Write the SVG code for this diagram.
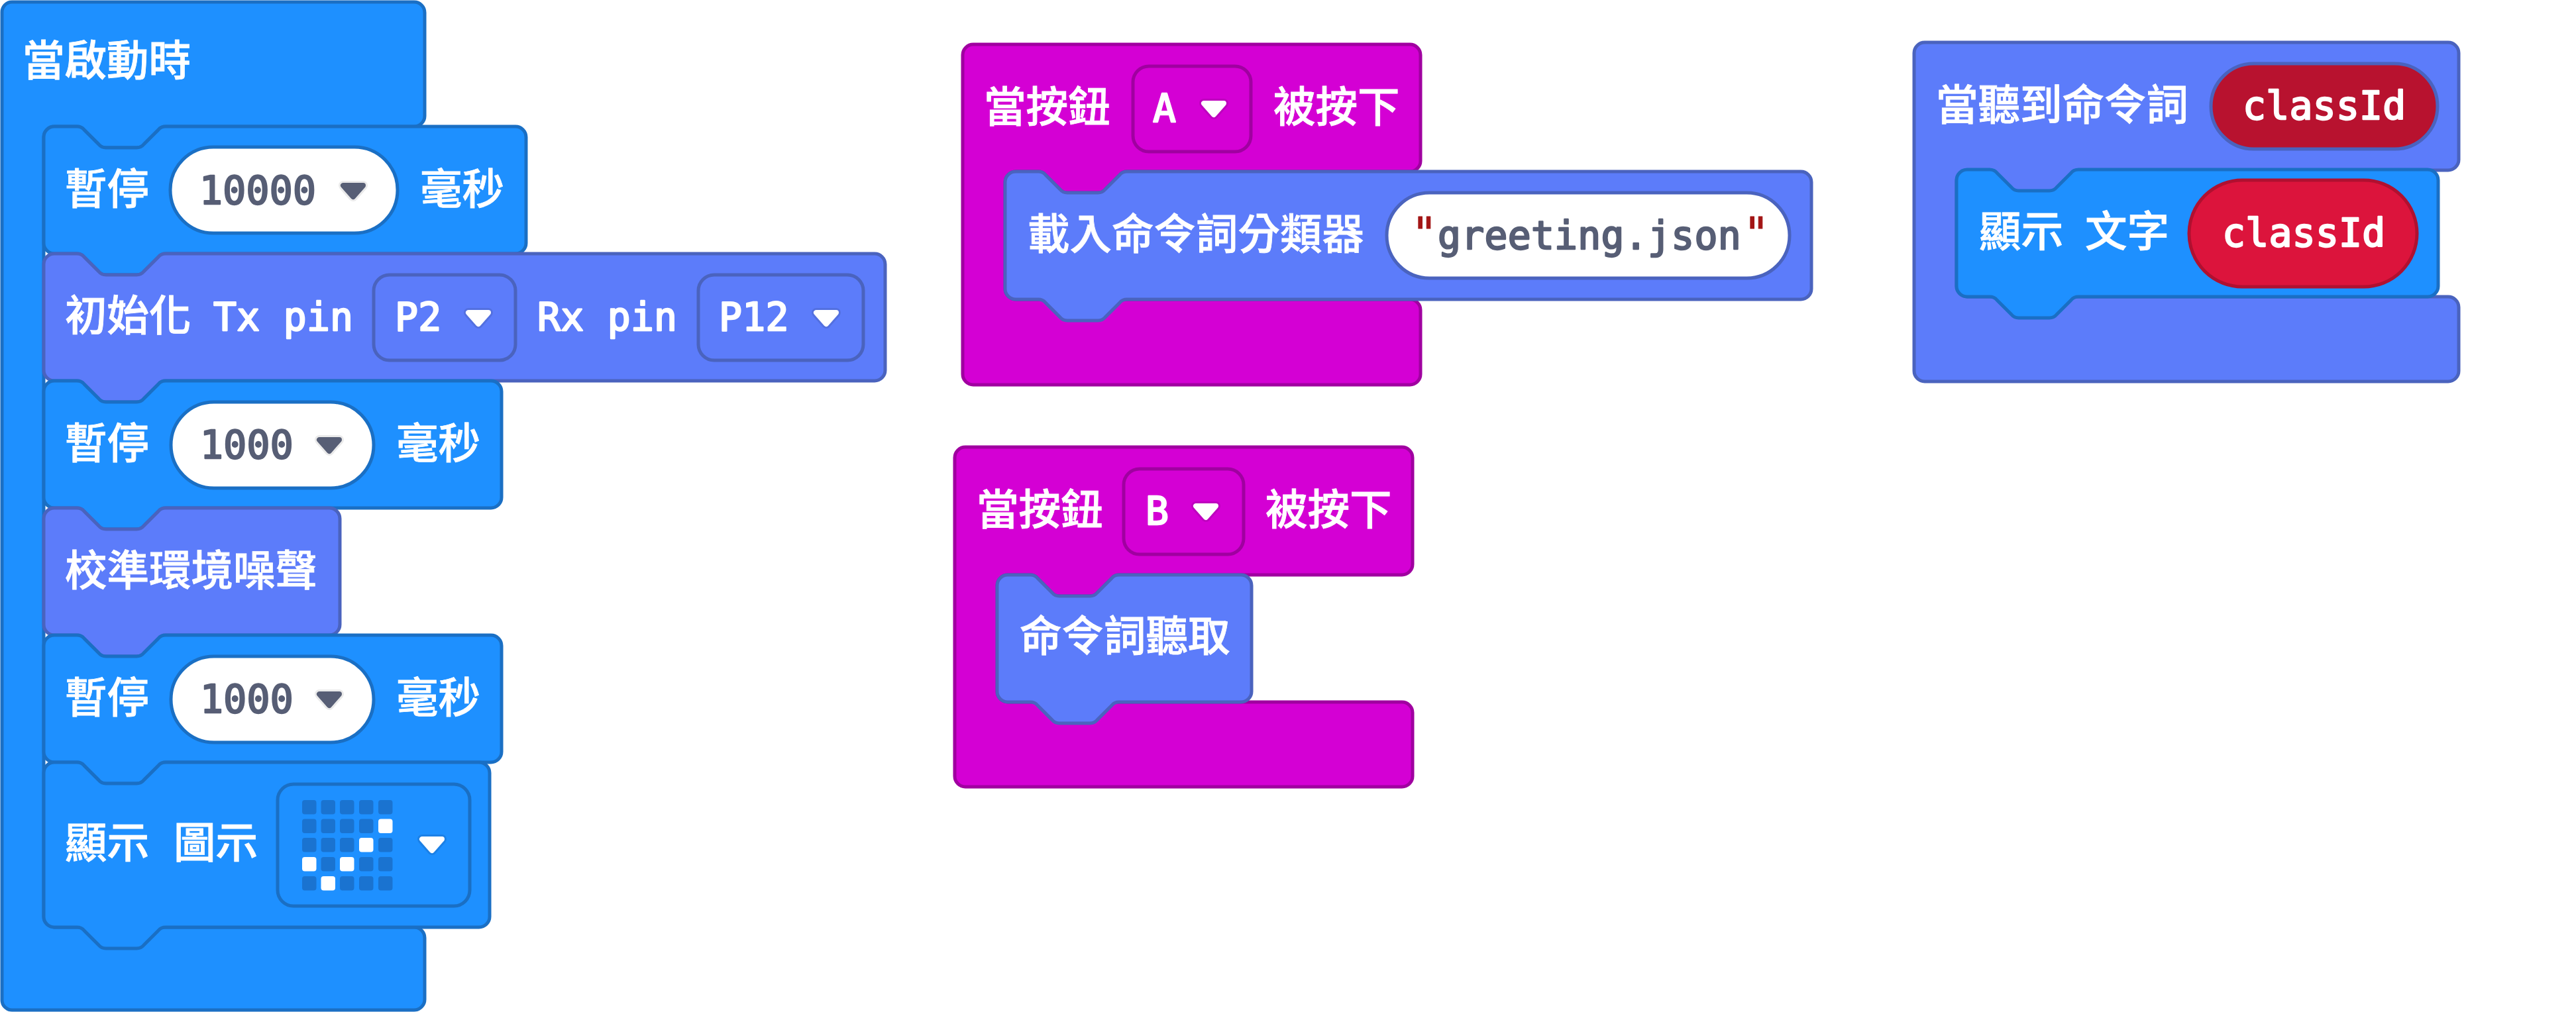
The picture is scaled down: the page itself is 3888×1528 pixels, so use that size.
<svg xmlns="http://www.w3.org/2000/svg" width="3888" height="1528" viewBox="0 0 3888 1528">
<style>
.blue{fill:#1E90FF;stroke:#1A6FC4;stroke-width:5}
.indigo{fill:#5C7CFA;stroke:#4A63BE;stroke-width:5}
.mag{fill:#D400D4;stroke:#A000A0;stroke-width:5}
.red{fill:#DC143C;stroke:#B01030;stroke-width:5}
.dred{fill:#B8122F;stroke:#4A63BE;stroke-width:5}
.wb{fill:#fff;stroke:#1A6FC4;stroke-width:5}
.wi{fill:#fff;stroke:#4A63BE;stroke-width:5}
.c{font-family:"Noto Sans CJK TC","Noto Sans",sans-serif;font-size:63.5px;font-weight:500;fill:#fff;stroke:#fff;stroke-width:.8}
.m{font-family:"DejaVu Sans Mono",monospace;font-size:58px;letter-spacing:.3px;font-weight:400;fill:#fff;stroke:#fff;stroke-width:2.4;stroke-linejoin:round}
.v{fill:#575E75;stroke:#575E75}
.q{fill:#A31515;stroke:#A31515;stroke-width:1;font-size:66px}
.off{fill:#1A73D0}
.on{fill:#fff}
.ad{fill:#575E75;stroke:#575E75;stroke-width:8;stroke-linejoin:round}
.hd{fill:#EAEAEA;stroke:#EAEAEA;stroke-width:14;stroke-linejoin:round}
.aw{fill:#fff;stroke:#fff;stroke-width:8;stroke-linejoin:round}
.hb{fill:#1B80E6;stroke:#1B80E6;stroke-width:14;stroke-linejoin:round}
.hi{fill:#5370E0;stroke:#5370E0;stroke-width:14;stroke-linejoin:round}
.hm{fill:#BE00BE;stroke:#BE00BE;stroke-width:14;stroke-linejoin:round}
</style>
<defs>
<path id="arrow" d="M-15,-8H15L0,9Z"/>
<rect id="led" width="21.5" height="21.5" rx="4"/>
</defs>
<g id="connectors"/>
<g id="node-start">
<path class="blue" d="M3,18A15,15 0 0 1 18,3H625A16,16 0 0 1 641,19V175A16,16 0 0 1 625,191H250q-7,0 -11,5l-22,22q-4,5 -11,5h-46q-7,0 -11,-5l-22,-22q-4,-5 -11,-5H82A16,16 0 0 0 66,207V1384A16,16 0 0 0 82,1400H625A16,16 0 0 1 641,1416V1509A16,16 0 0 1 625,1525H18A15,15 0 0 1 3,1510Z"/>
<text class="c" x="34" y="114">當啟動時</text>
</g>
<g id="node-pause1">
<path class="blue" d="M66,207A16,16 0 0 1 82,191H116q7,0 11,5l22,22q4,5 11,5h46q7,0 11,-5l22,-22q4,-5 11,-5H778A16,16 0 0 1 794,207V367A16,16 0 0 1 778,383H250q-7,0 -11,5l-22,22q-4,5 -11,5h-46q-7,0 -11,-5l-22,-22q-4,-5 -11,-5H82A16,16 0 0 1 66,367Z"/>
<text class="c" x="98" y="308">暫停</text>
<rect class="wb" x="257" y="222" width="343" height="130" rx="65"/>
<text class="m v" x="301" y="308">10000</text>
<use href="#arrow" class="hd" x="533" y="288"/><use href="#arrow" class="ad" x="533" y="288"/>
<text class="c" x="634" y="308">毫秒</text>
</g>
<g id="node-init">
<path class="indigo" d="M66,399A16,16 0 0 1 82,383H116q7,0 11,5l22,22q4,5 11,5h46q7,0 11,-5l22,-22q4,-5 11,-5H1320A16,16 0 0 1 1336,399V559A16,16 0 0 1 1320,575H250q-7,0 -11,5l-22,22q-4,5 -11,5h-46q-7,0 -11,-5l-22,-22q-4,-5 -11,-5H82A16,16 0 0 1 66,559Z"/>
<text class="c" x="98" y="499">初始化 <tspan class="m" x="322">Tx pin</tspan></text>
<rect class="indigo" x="564" y="415" width="214" height="129" rx="24"/>
<text class="m" x="596" y="499">P2</text>
<use href="#arrow" class="hi" x="722" y="480"/><use href="#arrow" class="aw" x="722" y="480"/>
<text class="m" x="811" y="499">Rx pin</text>
<rect class="indigo" x="1054" y="415" width="249" height="129" rx="24"/>
<text class="m" x="1085" y="499">P12</text>
<use href="#arrow" class="hi" x="1247" y="480"/><use href="#arrow" class="aw" x="1247" y="480"/>
</g>
<g id="node-pause2">
<path class="blue" d="M66,591A16,16 0 0 1 82,575H116q7,0 11,5l22,22q4,5 11,5h46q7,0 11,-5l22,-22q4,-5 11,-5H741A16,16 0 0 1 757,591V751A16,16 0 0 1 741,767H250q-7,0 -11,5l-22,22q-4,5 -11,5h-46q-7,0 -11,-5l-22,-22q-4,-5 -11,-5H82A16,16 0 0 1 66,751Z"/>
<text class="c" x="98" y="692">暫停</text>
<rect class="wb" x="258" y="607" width="306" height="130" rx="65"/>
<text class="m v" x="302" y="692">1000</text>
<use href="#arrow" class="hd" x="497" y="672"/><use href="#arrow" class="ad" x="497" y="672"/>
<text class="c" x="598" y="692">毫秒</text>
</g>
<g id="node-calibrate">
<path class="indigo" d="M66,783A16,16 0 0 1 82,767H116q7,0 11,5l22,22q4,5 11,5h46q7,0 11,-5l22,-22q4,-5 11,-5H497A16,16 0 0 1 513,783V943A16,16 0 0 1 497,959H250q-7,0 -11,5l-22,22q-4,5 -11,5h-46q-7,0 -11,-5l-22,-22q-4,-5 -11,-5H82A16,16 0 0 1 66,943Z"/>
<text class="c" x="98" y="884">校準環境噪聲</text>
</g>
<g id="node-pause3">
<path class="blue" d="M66,975A16,16 0 0 1 82,959H116q7,0 11,5l22,22q4,5 11,5h46q7,0 11,-5l22,-22q4,-5 11,-5H741A16,16 0 0 1 757,975V1135A16,16 0 0 1 741,1151H250q-7,0 -11,5l-22,22q-4,5 -11,5h-46q-7,0 -11,-5l-22,-22q-4,-5 -11,-5H82A16,16 0 0 1 66,1135Z"/>
<text class="c" x="98" y="1076">暫停</text>
<rect class="wb" x="258" y="991" width="306" height="130" rx="65"/>
<text class="m v" x="302" y="1076">1000</text>
<use href="#arrow" class="hd" x="497" y="1056"/><use href="#arrow" class="ad" x="497" y="1056"/>
<text class="c" x="598" y="1076">毫秒</text>
</g>
<g id="node-showicon">
<path class="blue" d="M66,1167A16,16 0 0 1 82,1151H116q7,0 11,5l22,22q4,5 11,5h46q7,0 11,-5l22,-22q4,-5 11,-5H723A16,16 0 0 1 739,1167V1384A16,16 0 0 1 723,1400H250q-7,0 -11,5l-22,22q-4,5 -11,5h-46q-7,0 -11,-5l-22,-22q-4,-5 -11,-5H82A16,16 0 0 1 66,1384Z"/>
<text class="c" x="98" y="1295">顯示 <tspan x="262">圖示</tspan></text>
<rect class="blue" x="419" y="1184" width="290" height="184" rx="24"/>
<g class="off">
<use href="#led" x="456" y="1208"/><use href="#led" x="484.5" y="1208"/><use href="#led" x="513" y="1208"/><use href="#led" x="542" y="1208"/><use href="#led" x="571" y="1208"/>
<use href="#led" x="456" y="1236.5"/><use href="#led" x="484.5" y="1236.5"/><use href="#led" x="513" y="1236.5"/><use href="#led" x="542" y="1236.5"/>
<use href="#led" x="456" y="1265"/><use href="#led" x="484.5" y="1265"/><use href="#led" x="513" y="1265"/><use href="#led" x="571" y="1265"/>
<use href="#led" x="484.5" y="1294"/><use href="#led" x="542" y="1294"/><use href="#led" x="571" y="1294"/>
<use href="#led" x="456" y="1323"/><use href="#led" x="513" y="1323"/><use href="#led" x="542" y="1323"/><use href="#led" x="571" y="1323"/>
</g>
<g class="on">
<use href="#led" x="571" y="1236.5"/><use href="#led" x="542" y="1265"/><use href="#led" x="456" y="1294"/><use href="#led" x="513" y="1294"/><use href="#led" x="484.5" y="1323"/>
</g>
<use href="#arrow" class="hb" x="652" y="1275"/><use href="#arrow" class="aw" x="652" y="1275"/>
</g>
<g id="node-button-a">
<path class="mag" d="M1453,83A16,16 0 0 1 1469,67H2128A16,16 0 0 1 2144,83V243A16,16 0 0 1 2128,259H1701q-7,0 -11,5l-22,22q-4,5 -11,5h-46q-7,0 -11,-5l-22,-22q-4,-5 -11,-5H1533A16,16 0 0 0 1517,275V436A16,16 0 0 0 1533,452H2128A16,16 0 0 1 2144,468V565A16,16 0 0 1 2128,581H1469A16,16 0 0 1 1453,565Z"/>
<text class="c" x="1485" y="184">當按鈕</text>
<rect class="mag" x="1710" y="100" width="178" height="129" rx="24"/>
<text class="m" x="1740" y="184">A</text>
<use href="#arrow" class="hm" x="1832" y="164"/><use href="#arrow" class="aw" x="1832" y="164"/>
<text class="c" x="1922" y="184">被按下</text>
</g>
<g id="node-load">
<path class="indigo" d="M1517,275A16,16 0 0 1 1533,259H1567q7,0 11,5l22,22q4,5 11,5h46q7,0 11,-5l22,-22q4,-5 11,-5H2718A16,16 0 0 1 2734,275V436A16,16 0 0 1 2718,452H1701q-7,0 -11,5l-22,22q-4,5 -11,5h-46q-7,0 -11,-5l-22,-22q-4,-5 -11,-5H1533A16,16 0 0 1 1517,436Z"/>
<text class="c" x="1551" y="376">載入命令詞分類器</text>
<rect class="wi" x="2093" y="291" width="608" height="129" rx="64.5"/>
<text class="m q" x="2130" y="375">"</text>
<text class="m v" x="2170" y="376">greeting.json</text>
<text class="m q" x="2631" y="375">"</text>
</g>
<g id="node-button-b">
<path class="mag" d="M1441,691A16,16 0 0 1 1457,675H2116A16,16 0 0 1 2132,691V852A16,16 0 0 1 2116,868H1689q-7,0 -11,5l-22,22q-4,5 -11,5h-46q-7,0 -11,-5l-22,-22q-4,-5 -11,-5H1521A16,16 0 0 0 1505,884V1044A16,16 0 0 0 1521,1060H2116A16,16 0 0 1 2132,1076V1172A16,16 0 0 1 2116,1188H1457A16,16 0 0 1 1441,1172Z"/>
<text class="c" x="1474" y="792">當按鈕</text>
<rect class="mag" x="1696" y="708" width="181" height="129" rx="24"/>
<text class="m" x="1729" y="792">B</text>
<use href="#arrow" class="hm" x="1820" y="772"/><use href="#arrow" class="aw" x="1820" y="772"/>
<text class="c" x="1910" y="792">被按下</text>
</g>
<g id="node-listen">
<path class="indigo" d="M1505,884A16,16 0 0 1 1521,868H1555q7,0 11,5l22,22q4,5 11,5h46q7,0 11,-5l22,-22q4,-5 11,-5H1873A16,16 0 0 1 1889,884V1044A16,16 0 0 1 1873,1060H1689q-7,0 -11,5l-22,22q-4,5 -11,5h-46q-7,0 -11,-5l-22,-22q-4,-5 -11,-5H1521A16,16 0 0 1 1505,1044Z"/>
<text class="c" x="1539" y="983">命令詞聽取</text>
</g>
<g id="node-hear">
<path class="indigo" d="M2889,80A16,16 0 0 1 2905,64H3695A16,16 0 0 1 3711,80V241A16,16 0 0 1 3695,257H3137q-7,0 -11,5l-22,22q-4,5 -11,5h-46q-7,0 -11,-5l-22,-22q-4,-5 -11,-5H2969A16,16 0 0 0 2953,273V432A16,16 0 0 0 2969,448H3695A16,16 0 0 1 3711,464V560A16,16 0 0 1 3695,576H2905A16,16 0 0 1 2889,560Z"/>
<text class="c" x="2922" y="181">當聽到命令詞</text>
<rect class="dred" x="3337" y="96" width="342" height="129" rx="64.5"/>
<text class="m" x="3385" y="180">classId</text>
</g>
<g id="node-showtext">
<path class="blue" d="M2953,272A16,16 0 0 1 2969,256H3003q7,0 11,5l22,22q4,5 11,5h46q7,0 11,-5l22,-22q4,-5 11,-5H3664A16,16 0 0 1 3680,272V432A16,16 0 0 1 3664,448H3137q-7,0 -11,5l-22,22q-4,5 -11,5h-46q-7,0 -11,-5l-22,-22q-4,-5 -11,-5H2969A16,16 0 0 1 2953,432Z"/>
<text class="c" x="2987" y="372">顯示 <tspan x="3147">文字</tspan></text>
<rect class="red" x="3304" y="272" width="344" height="161" rx="80.5"/>
<text class="m" x="3354" y="372">classId</text>
</g>
</svg>
